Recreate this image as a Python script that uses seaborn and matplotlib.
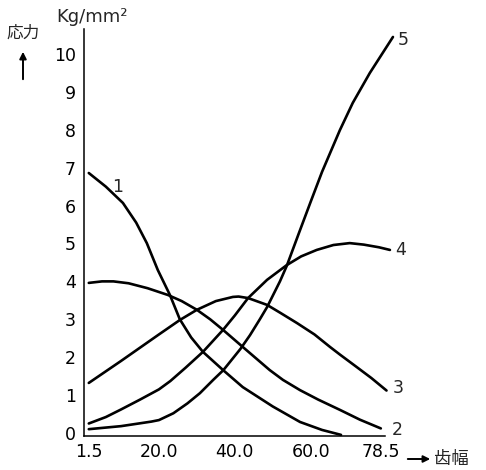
import matplotlib
matplotlib.use("Agg")
import matplotlib.pyplot as plt
import pandas as pd
import seaborn as sns

# stress curves (x = tooth width, y = stress kg/mm2)
c1_x = [1.5, 6, 10.5, 14, 16.8, 19.7, 22.9, 25.5, 28.5, 31.6, 36.9, 42.1, 50, 57.2, 63, 68]
c1_y = [6.86, 6.5, 6.07, 5.55, 5.01, 4.30, 3.64, 3.0, 2.52, 2.14, 1.66, 1.21, 0.7, 0.29, 0.08, -0.05]

c2_x = [1.5, 5, 8, 12, 17, 22.4, 26, 30, 33.5, 36.9, 42.1, 49.2, 52.7, 57.2, 62, 67.7, 73, 78.5]
c2_y = [3.96, 4.0, 4.0, 3.95, 3.82, 3.64, 3.48, 3.25, 3.0, 2.72, 2.27, 1.66, 1.40, 1.13, 0.88, 0.61, 0.35, 0.12]

c3_x = [1.5, 10, 20, 25.5, 30, 35, 39.5, 41, 43.5, 48.5, 52, 56.4, 61, 65.1, 67.7, 72, 76, 80]
c3_y = [1.32, 1.9, 2.6, 2.98, 3.25, 3.48, 3.59, 3.6, 3.56, 3.38, 3.17, 2.90, 2.6, 2.27, 2.07, 1.75, 1.45, 1.12]

c4_x = [1.5, 6, 10, 15, 20, 23, 27, 31.6, 36.9, 40, 43.5, 48.5, 53.7, 57.5, 61.6, 66, 70.3, 74, 78, 80.9]
c4_y = [0.25, 0.42, 0.62, 0.88, 1.15, 1.37, 1.72, 2.14, 2.72, 3.1, 3.56, 4.04, 4.43, 4.66, 4.83, 4.96, 5.01, 4.97, 4.9, 4.83]

c5_x = [1.5, 10, 18, 20, 23.8, 27.5, 30.8, 34.3, 37, 41.5, 44, 46.6, 48.5, 51.9, 53.7, 57, 60, 63, 67.7, 71.1, 75.6, 81.7]
c5_y = [0.1, 0.18, 0.3, 0.34, 0.52, 0.78, 1.05, 1.40, 1.66, 2.22, 2.58, 3.0, 3.32, 4.0, 4.41, 5.3, 6.1, 6.89, 7.99, 8.71, 9.50, 10.45]

x_ticks = [1.5, 20.0, 40.0, 60.0, 78.5]
x_tick_labels = ["1.5", "20.0", "40.0", "60.0", "78.5"]
y_ticks = list(range(0, 11))

curves = {"1": (c1_x, c1_y), "2": (c2_x, c2_y), "3": (c3_x, c3_y), "4": (c4_x, c4_y), "5": (c5_x, c5_y)}
df = pd.concat(
    [pd.DataFrame({"width": xs, "stress": ys, "curve": name}) for name, (xs, ys) in curves.items()],
    ignore_index=True,
)

sns.set_theme(style="white")
plt.rcParams["font.family"] = ["DejaVu Sans"]

fig = plt.figure(figsize=(4.86, 4.70), dpi=100)
ax = fig.add_axes([84 / 486, 34 / 470, 301 / 486, 407 / 470])

sns.lineplot(
    data=df, x="width", y="stress", hue="curve", palette={k: "black" for k in curves},
    linewidth=1.9, legend=False, sort=False, estimator=None, ax=ax, clip_on=False,
)

ax.set_xlim(0.24, 79.6)
ax.set_ylim(-0.08, 10.66)
ax.set_xticks(x_ticks)
ax.set_xticklabels(x_tick_labels)
ax.set_yticks(y_ticks)
ax.set_xlabel("")
ax.set_ylabel("")
ax.tick_params(axis="both", direction="in", length=4, width=1.1, color="black",
               labelsize=12.5, labelcolor="black")
ax.tick_params(axis="x", pad=5)
ax.tick_params(axis="y", pad=6)
for side in ["top", "right"]:
    ax.spines[side].set_visible(False)
for side in ["left", "bottom"]:
    ax.spines[side].set_color("black")
    ax.spines[side].set_linewidth(1.1)

# curve numbers
label_pos = {"1": (118, 187), "2": (397, 430), "3": (398, 388), "4": (401, 250), "5": (403, 40)}
for name, (px, py) in label_pos.items():
    fig.text(px / 486, 1 - py / 470, name, fontsize=12.5, ha="center", va="center")

fig.text(92 / 486, 1 - 17 / 470, "Kg/mm²", fontsize=13, ha="center", va="center")
fig.text(23 / 486, 1 - 33 / 470, "応力", fontsize=12, ha="center", va="center",
         family=["Noto Sans CJK JP", "DejaVu Sans"])
fig.text(434 / 486, 1 - 459 / 470, "齿幅", fontsize=12.5, ha="left", va="center",
         family=["Noto Sans CJK SC", "DejaVu Sans"])

ax.annotate("", xy=(23, 470 - 49), xytext=(23, 470 - 82), xycoords="figure pixels",
            arrowprops=dict(arrowstyle="-|>", color="black", lw=1.4, mutation_scale=10))
ax.annotate("", xy=(433, 470 - 459), xytext=(405, 470 - 459), xycoords="figure pixels",
            arrowprops=dict(arrowstyle="-|>", color="black", lw=1.4, mutation_scale=10))

fig.savefig("out.png", dpi=100)
